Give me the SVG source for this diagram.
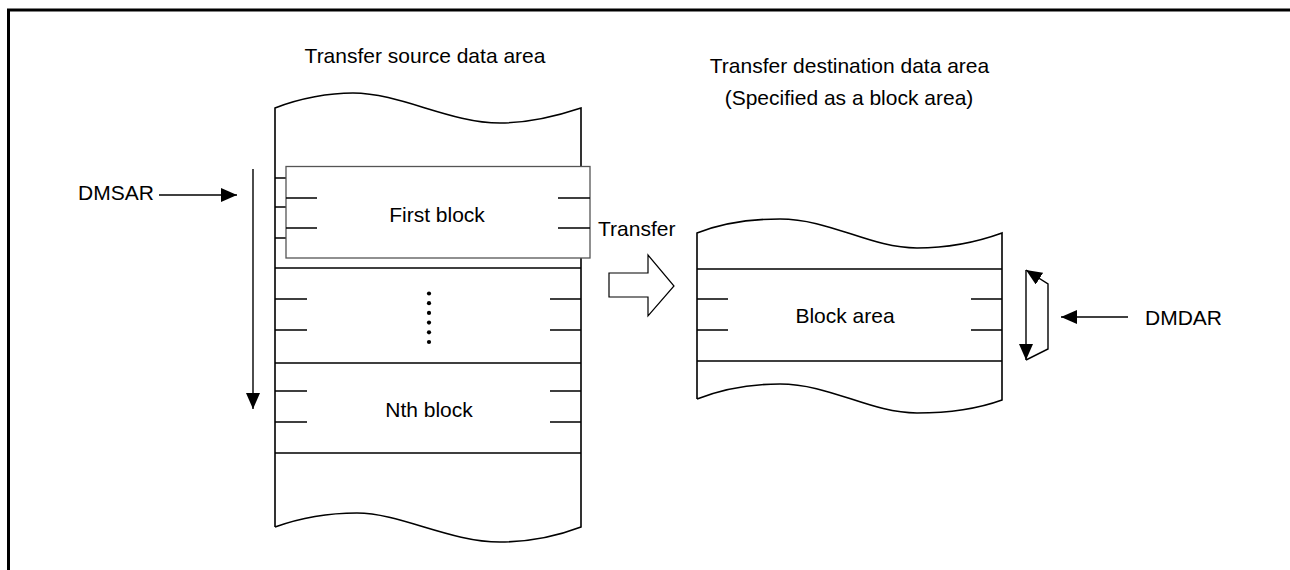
<svg xmlns="http://www.w3.org/2000/svg" width="1290" height="570" viewBox="0 0 1290 570">
<style>
  text { font-family: "Liberation Sans", Arial, sans-serif; font-size: 21px; fill: #000; }
  .mid { text-anchor: middle; }
  .edge { fill: none; stroke: #000; stroke-width: 1.6; }
  .thin { fill: none; stroke: #000; stroke-width: 1.3; }
  .blk { fill: #fff; stroke: #555; stroke-width: 1.3; }
  .arr { fill: none; stroke: #000; stroke-width: 1.4; marker-end: url(#head); }
</style>
<defs>
  <marker id="head" viewBox="0 0 16 14" refX="16" refY="7" markerWidth="16" markerHeight="14" markerUnits="userSpaceOnUse" orient="auto">
    <path d="M0,0 L16,7 L0,14 z" fill="#000"/>
  </marker>
</defs>
<rect x="0" y="0" width="1290" height="570" fill="#fff"/>
<path d="M8.5,570 V10 H1290" fill="none" stroke="#000" stroke-width="3"/>

<g id="source-area">
  <path class="edge" d="M275,527 V108 C300,98 330,93 353,93 C400,93 450,123 500,123 C530,123 560,115 581,108 V527 C560,535 530,542 500,542 C450,542 400,513 357,513 C330,513 300,518 275,527"/>
  <path class="thin" d="M275,178 H581 M275,268 H581 M275,363 H581 M275,453 H581"/>
  <path class="thin" d="M275,207 H307 M275,238 H307 M550,207 H581 M550,238 H581"/>
  <path class="thin" d="M275,299 H307 M275,330 H307 M550,299 H581 M550,330 H581"/>
  <path class="thin" d="M275,391 H307 M275,422 H307 M550,391 H581 M550,422 H581"/>
  <g fill="#000">
    <circle cx="429" cy="293.5" r="2.1"/>
    <circle cx="429" cy="303.2" r="2.1"/>
    <circle cx="429" cy="312.9" r="2.1"/>
    <circle cx="429" cy="322.6" r="2.1"/>
    <circle cx="429" cy="332.3" r="2.1"/>
    <circle cx="429" cy="342" r="2.1"/>
  </g>
  <text class="mid" x="429" y="417">Nth block</text>
  <text class="mid" x="425" y="63">Transfer source data area</text>
</g>

<g id="first-block">
  <rect class="blk" x="286" y="166.5" width="304" height="91.5"/>
  <path class="thin" d="M286,198 H317 M286,228 H317 M558,198 H590 M558,228 H590"/>
  <text class="mid" x="437" y="222">First block</text>
</g>

<g id="dest-area">
  <path class="edge" d="M697,399 V233 C720,224 750,219 780,219 C830,219 870,248 917,248 C950,248 980,241 1002,233 V400 C980,408 950,413 917,413 C870,413 830,384 780,384 C750,384 720,390 697,399"/>
  <path class="thin" d="M697,269 H1002 M697,361 H1002"/>
  <path class="thin" d="M697,299 H728 M697,330 H728 M971,299 H1002 M971,330 H1002"/>
  <text class="mid" x="845" y="323">Block area</text>
  <text class="mid" x="849.5" y="73">Transfer destination data area</text>
  <text class="mid" x="849" y="105">(Specified as a block area)</text>
</g>

<g id="transfer">
  <polygon points="609,273 648,273 648,255 674,286 648,316 648,297 609,297" fill="#fff" stroke="#000" stroke-width="1.2"/>
  <text x="598" y="236">Transfer</text>
</g>

<g id="dmsar">
  <text x="78" y="200">DMSAR</text>
</g>
<g id="dmdar">
  <text x="1145" y="325">DMDAR</text>
</g>

<g id="connectors">
  <line class="arr" x1="159" y1="195" x2="237" y2="195"/>
  <line class="arr" x1="253" y1="169" x2="253" y2="409"/>
  <line class="arr" x1="1128" y1="317" x2="1061" y2="317"/>
  <line class="arr" x1="1026" y1="270" x2="1026" y2="360"/>
  <path class="arr" d="M1026,360 L1048,349 V284 L1026,270"/>
</g>
</svg>
